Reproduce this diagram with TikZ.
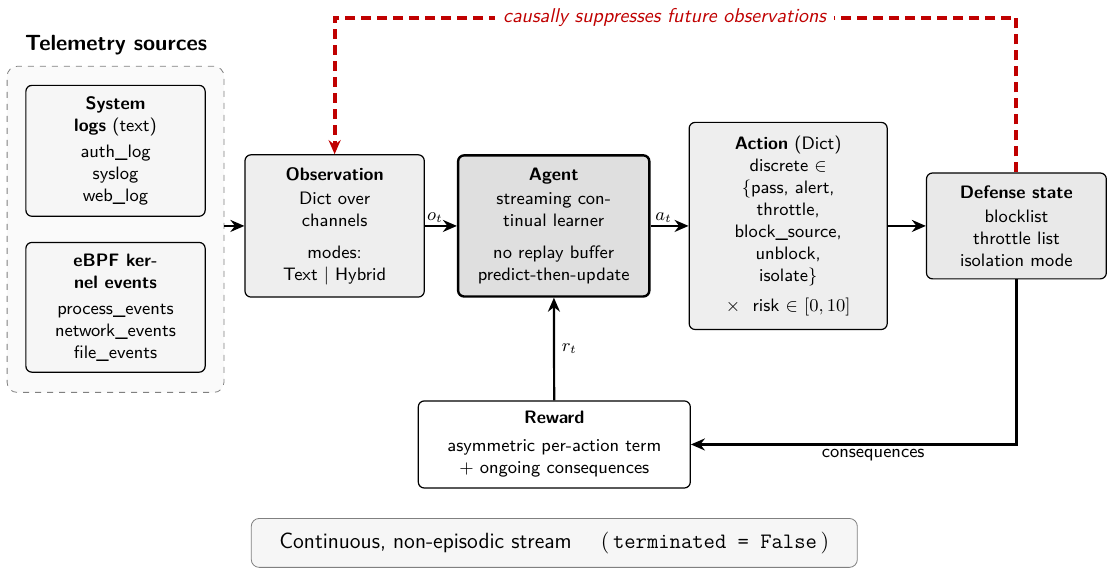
\documentclass[tikz,border=0pt]{standalone}
\usepackage{amsmath,amssymb}
\usepackage{tikz}
\usetikzlibrary{arrows.meta}
\definecolor{suppred}{RGB}{192,0,0}

\begin{document}
\begin{tikzpicture}[x=1cm,y=1cm,>={Stealth[length=7pt,width=6pt]},font=\sffamily\small,
                    blk/.style={draw,rounded corners=3pt,fill=#1,align=center,line width=0.6pt,inner sep=2pt},
                    flow/.style={->,line width=1.1pt},
                    supp/.style={->,suppred,line width=2pt,dash pattern=on 5pt off 3pt}]
  \useasboundingbox (0,0) rectangle (19.54,10.09);
  % telemetry sources
  \node[font=\sffamily\bfseries\fontsize{11}{13}\selectfont] (srctitle) at (2.04,9.30) {Telemetry sources};
  \node[draw=gray,dashed,rounded corners=5pt,fill=gray!4,minimum width=3.81cm,minimum height=5.73cm] (src) at (2.03,6.06) {};
  \node[blk=gray!7,minimum width=3.15cm,minimum height=2.30cm] (logs) at (2.03,7.44)
    {{\bfseries System}\\ {\bfseries logs} (text)\\[2pt] auth\_log\\ syslog\\ web\_log};
  \node[blk=gray!7,minimum width=3.15cm,minimum height=2.28cm] (ebpf) at (2.03,4.69)
    {{\bfseries eBPF ker-}\\ {\bfseries nel events}\\[2pt] process\_events\\ network\_events\\ file\_events};
  % main loop
  \node[blk=gray!13,minimum width=3.15cm,minimum height=2.50cm] (obs) at (5.88,6.12)
    {{\bfseries Observation}\\[1pt] Dict over\\ channels\\[5pt] modes:\\ Text $|$ Hybrid};
  \node[blk=gray!25,line width=1.2pt,minimum width=3.36cm,minimum height=2.48cm] (agent) at (9.73,6.12)
    {{\bfseries Agent}\\[1pt] streaming con-\\ tinual learner\\[5pt] no replay buffer\\ predict-then-update};
  \node[blk=gray!13,minimum width=3.48cm,minimum height=3.64cm] (act) at (13.85,6.12)
    {{\bfseries Action} (Dict)\\ discrete $\in$\\ $\{$pass, alert,\\ throttle,\\ block\_source,\\ unblock,\\ isolate$\}$\\[4pt] $\times$\ \ risk $\in$ $[0,10]$};
  \node[blk=gray!17,minimum width=3.16cm,minimum height=1.86cm] (def) at (17.86,6.12)
    {{\bfseries Defense state}\\[1pt] blocklist\\ throttle list\\ isolation mode};
  \node[blk=white,minimum width=4.78cm,minimum height=1.53cm] (rew) at (9.74,2.28)
    {{\bfseries Reward}\\[3pt] asymmetric per-action term\\ $+$ ongoing consequences};
  \node[draw=gray,rounded corners=4pt,fill=gray!7,minimum width=10.65cm,minimum height=0.86cm,font=\sffamily\fontsize{11}{13}\selectfont] (note) at (9.74,0.55)
    {Continuous, non-episodic stream \quad $($\,\texttt{terminated = False}\,$)$};
  % connectors
  \draw[flow] (src.east |- obs.west) -- (obs.west);
  \draw[flow] (obs) -- node[above,xshift=-3pt,inner sep=1pt]{$o_t$} (agent);
  \draw[flow] (agent) -- node[above,xshift=-3pt,inner sep=1pt]{$a_t$} (act);
  \draw[flow] (act) -- (def);
  \draw[flow] (rew) -- node[right,pos=0.5]{$r_t$} (agent);
  \draw[flow] (def.south) |- node[pos=0.72,below,inner sep=2pt]{consequences} (rew.east);
  % feedback onto the observations
  \draw[supp] (def.north) -- ++(0,2.72) -| node[pos=0.258,fill=white,inner sep=4pt,font=\sffamily\itshape]{causally suppresses future observations} (obs.north);
\end{tikzpicture}
\end{document}
